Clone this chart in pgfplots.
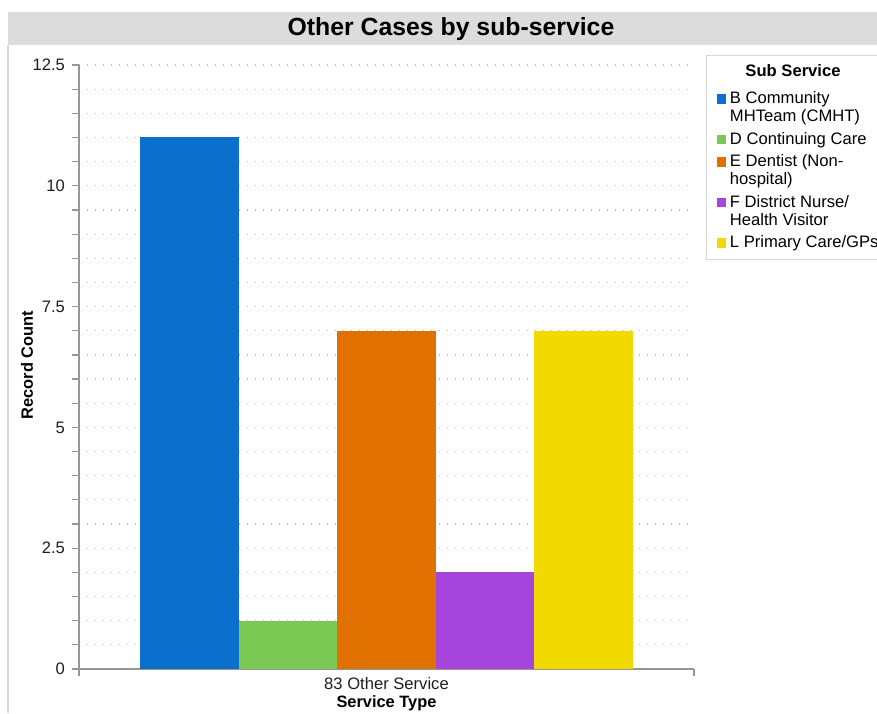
\documentclass[border=0pt]{standalone}
\usepackage{pgfplots}
\pgfplotsset{compat=1.18}
\usepackage{fontspec}
\setmainfont{Liberation Sans}
\definecolor{cB}{RGB}{11,111,205}
\definecolor{cD}{RGB}{122,201,85}
\definecolor{cE}{RGB}{224,112,0}
\definecolor{cF}{RGB}{165,69,219}
\definecolor{cL}{RGB}{242,218,0}
\definecolor{axisgray}{RGB}{150,150,150}
\definecolor{gridgray}{RGB}{190,190,190}
\definecolor{titlebg}{RGB}{220,220,220}
\definecolor{framegray}{RGB}{215,215,215}
\definecolor{txt}{RGB}{30,30,30}
\begin{document}
\begin{tikzpicture}
\useasboundingbox (0,0) rectangle (438.5pt,356.5pt);
\fill[titlebg] (4pt,334pt) rectangle (445pt,350.5pt);
\draw[framegray, line width=0.6pt] (4pt,0pt) -- (4pt,334pt);
\node[font=\fontsize{12.4}{14}\selectfont\bfseries, text=black] at (225.5pt,341.8pt) {Other Cases by sub-service};
\begin{axis}[
  at={(39.5pt,22pt)}, anchor=south west,
  scale only axis, width=307.5pt, height=302pt,
  xmin=-0.5, xmax=0.5, ymin=0, ymax=12.5,
  axis x line*=bottom, axis y line*=left,
  axis line style={draw=axisgray, line width=0.6pt},
  every tick/.style={draw=axisgray, line width=0.6pt},
  tick align=outside, major tick length=3.5pt, minor tick length=3.5pt,
  ytick={0,2.5,5,7.5,10,12.5},
  yticklabels={0,2.5,5,7.5,10,12.5},
  minor y tick num=4,
  ymajorgrids, yminorgrids,
  major grid style={draw=gridgray, line width=0.6pt, dash pattern=on 0.6pt off 3.4pt},
  minor grid style={draw=gridgray, line width=0.6pt, dash pattern=on 0.6pt off 3.4pt},
  xtick={0}, xticklabels={83 Other Service},
  major x tick style={draw=none},
  extra x ticks={-0.5,0.5}, extra x tick labels={},
  extra x tick style={major x tick style={draw=axisgray}, grid=none},
  ticklabel style={font=\fontsize{8.3}{10}\selectfont, text=txt},
  xticklabel style={yshift=3pt},
  /pgf/number format/assume math mode=true,
  xlabel={Service Type}, ylabel={Record Count},
  label style={font=\fontsize{8.2}{10}\selectfont\bfseries, text=black},
  xlabel style={at={(axis description cs:0.5,-0.0563)}, anchor=center},
  ylabel style={at={(axis description cs:-0.0846,0.503)}, anchor=center, rotate=0},
  ybar, bar width=0.16, 
  legend style={at={(axis description cs:1.0195,1.0166)}, anchor=north west,
    draw=framegray, line width=0.6pt, fill=white, font=\fontsize{8.3}{9}\selectfont,
    inner xsep=5pt, inner ysep=4.5pt,
    nodes={inner sep=0pt}, column sep=2pt, row sep=3.4pt,
    cells={align=left}},
  legend cell align=left,
]
\addlegendimage{empty legend}
\addlegendentry{\hspace*{7.75pt}\raisebox{2.5pt}{\textbf{Sub Service}}}
\addplot[fill=cB, draw=none, bar shift=0pt,
  legend image code/.code={\path[fill=cB] (0pt,2.2pt) rectangle (4.7pt,6.9pt);}]
  coordinates {(-0.32,11)};
\addlegendentry{\strut B Community\\\strut MHTeam (CMHT)}
\addplot[fill=cD, draw=none, bar shift=0pt,
  legend image code/.code={\path[fill=cD] (0pt,-2.35pt) rectangle (4.7pt,2.35pt);}]
  coordinates {(-0.16,1)};
\addlegendentry{\strut D Continuing Care}
\addplot[fill=cE, draw=none, bar shift=0pt,
  legend image code/.code={\path[fill=cE] (0pt,2.2pt) rectangle (4.7pt,6.9pt);}]
  coordinates {(0,7)};
\addlegendentry{\strut E Dentist (Non-\\\strut hospital)}
\addplot[fill=cF, draw=none, bar shift=0pt,
  legend image code/.code={\path[fill=cF] (0pt,2.2pt) rectangle (4.7pt,6.9pt);}]
  coordinates {(0.16,2)};
\addlegendentry{\strut F District Nurse/\\\strut Health Visitor}
\addplot[fill=cL, draw=none, bar shift=0pt,
  legend image code/.code={\path[fill=cL] (0pt,-2.35pt) rectangle (4.7pt,2.35pt);}]
  coordinates {(0.32,7)};
\addlegendentry{\strut L Primary Care/GPs}
\end{axis}
\end{tikzpicture}
\end{document}
